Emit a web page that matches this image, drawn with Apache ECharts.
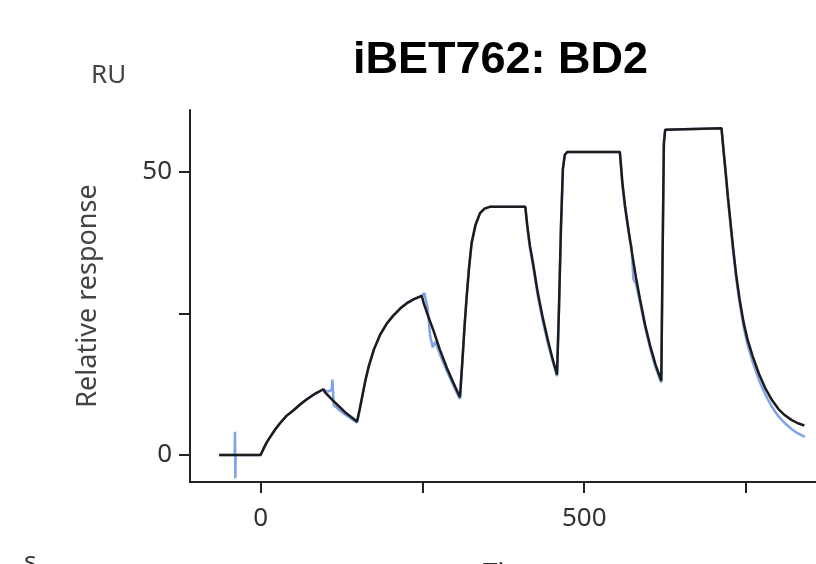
<!DOCTYPE html>
<html>
<head>
<meta charset="utf-8">
<script src="https://cdn.jsdelivr.net/npm/echarts@6/dist/echarts.min.js"></script>
<style>
  html, body { margin: 0; padding: 0; background: #fff; }
  #chart { width: 816px; height: 564px; }
</style>
</head>
<body>
<div id="chart"></div>
<script>
// fitted curve (black), time in s, response in RU
const fitTime = [
  -64, 0, 5, 10, 15, 22, 30, 40, 51, 61, 71, 84, 97,
  100, 106, 112, 121, 130, 140, 149,
  153, 157, 162, 167, 175, 185, 195, 205, 216, 226, 237, 249,
  252, 258, 267, 277, 288, 298, 308,
  312, 315, 318, 322, 326, 332, 339, 346, 354, 409,
  412, 416, 421, 428, 436, 444, 451, 458,
  461, 464, 467, 470, 474, 555,
  559, 563, 567, 574, 580, 586, 594, 602, 610, 619,
  621, 623, 625, 628, 712,
  715, 718, 722, 726, 730, 735, 740, 746, 752, 760, 770, 780, 790, 800, 810, 820, 830, 840
]
const fitResp = [
  0, 0, 1.2, 2.3, 3.2, 4.4, 5.6, 6.9, 7.9, 8.9, 9.8, 10.8, 11.6,
  11.0, 10.3, 9.6, 8.6, 7.6, 6.7, 5.9,
  8.0, 10.3, 13.2, 15.6, 18.6, 21.3, 23.2, 24.6, 25.9, 26.8, 27.5, 28.1,
  26.8, 24.8, 22.0, 18.6, 15.3, 12.7, 10.2,
  17.0, 22.5, 27.4, 33.0, 37.4, 40.6, 42.7, 43.5, 43.8, 43.8,
  40.5, 37.0, 33.8, 28.8, 24.2, 20.2, 17.0, 14.2,
  26.0, 40.0, 50.5, 53.0, 53.5, 53.5,
  48.0, 44.0, 40.8, 35.5, 31.3, 27.6, 23.0, 19.2, 16.0, 13.1,
  35.0, 55.0, 57.4, 57.7, 57.7,
  54.0, 50.5, 45.5, 41.0, 36.5, 31.5, 27.5, 23.5, 20.5, 17.5, 14.3, 11.7, 9.7, 8.1, 7.0, 6.2, 5.6, 5.2
]

// measured sensorgram (blue)
const dataTime = [
  -64, -40, -39.5, -39, -38.5, 0, 5, 10, 15, 22, 30, 40, 51, 61, 71, 84, 97,
  104, 110, 111, 113, 121, 130, 140, 149,
  153, 157, 162, 167, 175, 185, 195, 205, 216, 226, 237, 249,
  253, 258, 262, 266, 270, 277, 288, 298, 308,
  312, 315, 318, 322, 326, 332, 339, 346, 354, 409,
  412, 416, 421, 428, 436, 444, 451, 458,
  461, 464, 467, 470, 474, 555,
  559, 563, 567, 571, 573, 576, 580, 586, 594, 602, 610, 619,
  621, 623, 625, 628, 712,
  715, 718, 722, 726, 730, 735, 740, 746, 752, 760, 770, 780, 790, 800, 810, 820, 830, 841
]
const dataResp = [
  0, 0, 4.1, -4.1, 0, 0, 1.2, 2.3, 3.2, 4.4, 5.6, 6.9, 7.9, 8.9, 9.8, 10.8, 11.6,
  11.2, 11.5, 13.3, 8.8, 8.0, 7.2, 6.4, 5.7,
  8.0, 10.3, 13.2, 15.6, 18.6, 21.3, 23.2, 24.6, 25.9, 26.8, 27.5, 28.1,
  28.6, 26.0, 21.0, 19.0, 20.0, 17.8, 14.8, 12.2, 9.9,
  17.0, 22.5, 27.4, 33.0, 37.4, 40.6, 42.7, 43.5, 43.8, 43.8,
  40.2, 36.6, 33.3, 28.2, 23.6, 19.6, 16.6, 13.9,
  26.0, 40.0, 50.5, 53.0, 53.5, 53.5,
  47.6, 43.6, 40.4, 37.6, 36.8, 31.0, 30.2, 27.0, 22.5, 18.7, 15.5, 12.8,
  35.0, 55.0, 57.4, 57.7, 57.7,
  53.8, 50.2, 45.1, 40.5, 36.0, 30.9, 26.8, 22.7, 19.6, 16.5, 13.2, 10.6, 8.5, 6.8, 5.6, 4.6, 3.8, 3.2
]

const xTicks = [0, 250, 500, 750]
const xLabels = [0, 500]
const yTicks = [0, 25, 50]
const yLabels = [0, 50]

const fitPoints = fitTime.map((t, i) => [t, fitResp[i]])
const dataPoints = dataTime.map((t, i) => [t, dataResp[i]])

const chart = echarts.init(document.getElementById('chart'), null, { renderer: 'canvas' })

const labelFont = { fontFamily: 'Noto Sans', fontSize: 26, color: '#333' }

chart.setOption({
  animation: false,
  backgroundColor: '#fff',
  grid: { left: 190, top: 110, right: 0, bottom: 82, containLabel: false, outerBoundsMode: 'none' },
  xAxis: {
    type: 'value',
    min: -109,
    max: 858,
    axisLine: { show: true, onZero: false, lineStyle: { color: '#222', width: 2 } },
    axisTick: { show: true, inside: false, length: 11, customValues: xTicks, lineStyle: { color: '#222', width: 2 } },
    axisLabel: { show: true, margin: 24, customValues: xLabels, ...labelFont },
    splitLine: { show: false }
  },
  yAxis: {
    type: 'value',
    min: -4.77,
    max: 60.9,
    name: 'Relative response',
    nameLocation: 'middle',
    nameGap: 88,
    nameRotate: 90,
    nameTextStyle: { fontFamily: 'Noto Sans', fontSize: 27, color: '#444' },
    axisLine: { show: true, onZero: false, lineStyle: { color: '#222', width: 2 } },
    axisTick: { show: true, inside: false, length: 11, customValues: yTicks, lineStyle: { color: '#222', width: 2 } },
    axisLabel: { show: true, margin: 18, customValues: yLabels, ...labelFont },
    splitLine: { show: false }
  },
  graphic: [
    {
      type: 'text', left: 353, top: 38,
      style: { text: 'iBET762: BD2', fontFamily: 'Liberation Sans', fontWeight: 'bold', fontSize: 45, fill: '#000' }
    },
    {
      type: 'text', left: 91, top: 63,
      style: { text: 'RU', fontFamily: 'Noto Sans', fontSize: 26, fill: '#444' }
    },
    {
      type: 'text', left: 483, top: 561,
      style: { text: 'Time', fontFamily: 'Noto Sans', fontSize: 26, fill: '#333' }
    },
    {
      type: 'text', left: 24, top: 550,
      style: { text: 's', fontFamily: 'Noto Sans', fontSize: 26, fill: '#333' }
    }
  ],
  series: [
    {
      name: 'Data',
      type: 'line',
      data: dataPoints,
      symbol: 'none',
      smooth: false,
      lineStyle: { color: '#7fa2e8', width: 2.5 },
      z: 2
    },
    {
      name: 'Fit',
      type: 'line',
      data: fitPoints,
      symbol: 'none',
      smooth: false,
      lineStyle: { color: '#1c1c1c', width: 2.5 },
      z: 3
    }
  ]
})
</script>
</body>
</html>
